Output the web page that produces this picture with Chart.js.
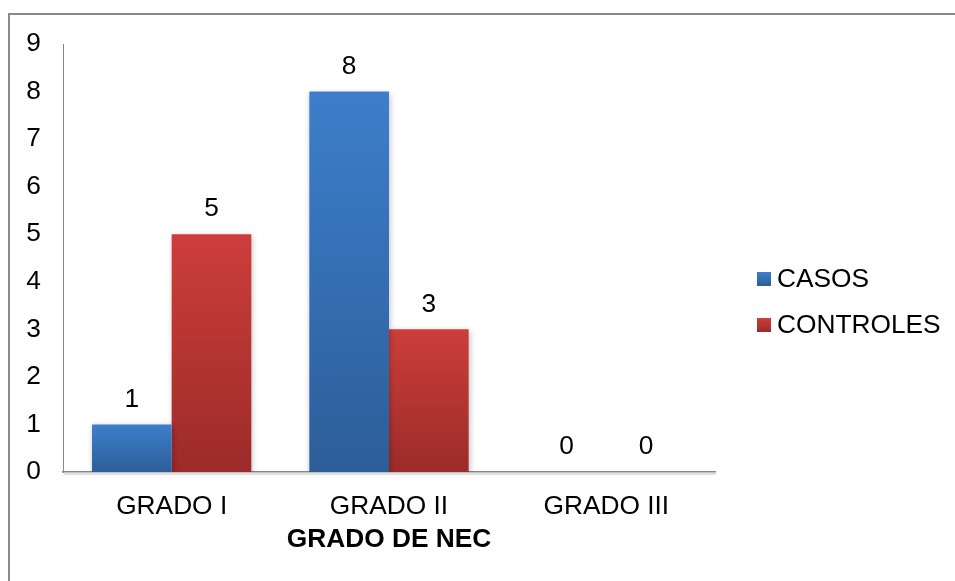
<!DOCTYPE html>
<html>
<head>
<meta charset="utf-8">
<script src="https://cdn.jsdelivr.net/npm/chart.js@4/dist/chart.umd.min.js"></script>
<style>
  html, body { margin: 0; padding: 0; background: #ffffff; overflow: hidden; }
  #wrap { position: relative; width: 955px; height: 581px; }
  #frame { position: absolute; left: 8px; top: 13px; width: 1000px; height: 1000px;
           border: 2px solid #8a8a8a; box-sizing: border-box; }
  #c { position: absolute; left: 0; top: 0; }
</style>
</head>
<body>
<div id="wrap">
  <div id="frame"></div>
  <canvas id="c" width="955" height="581"></canvas>
</div>
<script>
// Grado de NEC: casos vs controles
const categories = ['GRADO I', 'GRADO II', 'GRADO III'];
const casos = [1, 8, 0];
const controles = [5, 3, 0];
const seriesNames = ['CASOS', 'CONTROLES'];
const yMin = 0;
const yMax = 9;
const axisTitle = 'GRADO DE NEC';

const FONT = '"Liberation Sans", Arial, sans-serif';
const FS = 26.3;

const BLUE = ['#3d7ecb', '#2c5e99'];
const RED = ['#cd3e3b', '#9c2b29'];

// vertical gradient for each bar, from its top down to the zero line
function barFill(colors) {
  return (ctx) => {
    const chart = ctx.chart;
    if (!chart.chartArea || ctx.type !== 'data') return colors[0];
    const y = chart.scales.y;
    const top = y.getPixelForValue(ctx.raw);
    let bottom = y.getPixelForValue(0);
    if (bottom - top < 1) bottom = top + 1;
    const g = chart.ctx.createLinearGradient(0, top, 0, bottom);
    g.addColorStop(0, colors[0]);
    g.addColorStop(1, colors[1]);
    return g;
  };
}

// soft drop shadow under the bars
const barShadow = {
  id: 'barShadow',
  beforeDatasetsDraw(chart) {
    const c = chart.ctx;
    c.save();
    c.shadowColor = 'rgba(0,0,0,0.25)';
    c.shadowBlur = 6;
    c.shadowOffsetX = 1;
    c.shadowOffsetY = 2;
  },
  afterDatasetsDraw(chart) { chart.ctx.restore(); }
};

// faint shadow line under the category axis
const axisShadow = {
  id: 'axisShadow',
  beforeDraw(chart) {
    const a = chart.chartArea;
    const c = chart.ctx;
    c.save();
    c.strokeStyle = 'rgba(0,0,0,0.12)';
    c.lineWidth = 2;
    c.beginPath();
    c.moveTo(a.left + 1, a.bottom + 2);
    c.lineTo(a.right + 1, a.bottom + 2);
    c.stroke();
    c.restore();
  }
};

// value written above each bar
const valueLabels = {
  id: 'valueLabels',
  afterDatasetsDraw(chart) {
    const c = chart.ctx;
    c.save();
    c.font = FS + 'px ' + FONT;
    c.fillStyle = '#000000';
    c.textAlign = 'center';
    c.textBaseline = 'middle';
    chart.data.datasets.forEach((ds, i) => {
      const meta = chart.getDatasetMeta(i);
      meta.data.forEach((bar, j) => {
        c.fillText(String(ds.data[j]), bar.x, bar.y - 25);
      });
    });
    c.restore();
  }
};

// legend at the right: square swatch + series name
const sideLegend = {
  id: 'sideLegend',
  afterDraw(chart, args, opts) {
    const c = chart.ctx;
    c.save();
    c.font = FS + 'px ' + FONT;
    c.textAlign = 'left';
    c.textBaseline = 'middle';
    chart.data.datasets.forEach((ds, i) => {
      const cy = opts.y + i * opts.gap;
      const cols = i === 0 ? BLUE : RED;
      const g = c.createLinearGradient(0, cy - 7, 0, cy + 7);
      g.addColorStop(0, cols[0]);
      g.addColorStop(1, cols[1]);
      c.fillStyle = g;
      c.fillRect(opts.x, cy - 7, 14, 14);
      c.fillStyle = '#000000';
      c.fillText(ds.label, opts.x + 20, cy + 1);
    });
    c.restore();
  }
};

new Chart(document.getElementById('c'), {
  type: 'bar',
  data: {
    labels: categories,
    datasets: [
      { label: seriesNames[0], data: casos, backgroundColor: barFill(BLUE) },
      { label: seriesNames[1], data: controles, backgroundColor: barFill(RED) }
    ]
  },
  options: {
    responsive: false,
    animation: false,
    devicePixelRatio: 1,
    datasets: { bar: { categoryPercentage: 0.733, barPercentage: 1.0, borderWidth: 0 } },
    layout: { padding: { top: 44, right: 240, bottom: 0, left: 0 } },
    plugins: {
      legend: { display: false },
      tooltip: { enabled: false },
      sideLegend: { x: 757, y: 279, gap: 46 }
    },
    scales: {
      x: {
        grid: { display: false, drawTicks: false },
        border: { display: true, color: '#878787', width: 1.5 },
        ticks: { color: '#000000', font: { family: FONT, size: FS }, padding: 19, maxRotation: 0 },
        title: { display: true, text: axisTitle, color: '#000000',
                 font: { family: FONT, size: FS, weight: 'bold' }, padding: { top: 0, bottom: 25 } },
        afterFit(s) { s.height = 109; }
      },
      y: {
        min: yMin, max: yMax,
        grid: { display: false, drawTicks: false },
        border: { display: true, color: '#878787', width: 1 },
        ticks: { stepSize: 1, color: '#000000', font: { family: FONT, size: FS }, padding: 22 },
        afterFit(s) { s.width = 63; }
      }
    }
  },
  plugins: [axisShadow, barShadow, valueLabels, sideLegend]
});
</script>
</body>
</html>
